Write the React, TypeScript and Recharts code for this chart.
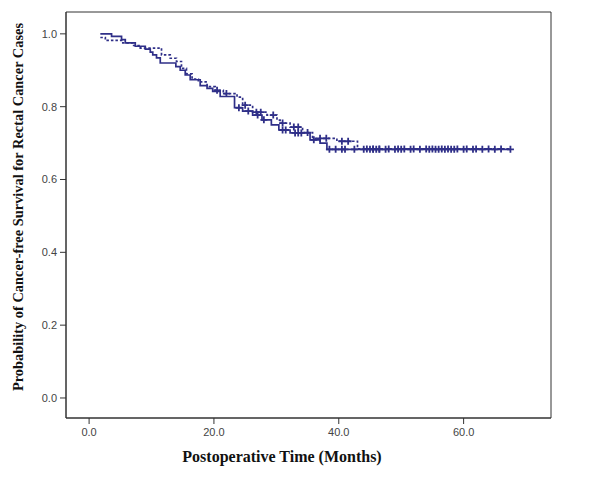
import React from 'react';
import {
  ComposedChart, Line, Scatter, XAxis, YAxis, ReferenceArea, Label
} from 'recharts';

// Kaplan-Meier steps (time in months, survival probability)
const solidTimes = [1.8, 3.6, 5.2, 5.8, 7.4, 9.0, 9.8, 10.2, 10.8, 11.4, 13.9, 14.6, 15.4, 16.2, 17.8, 18.9, 19.8, 21.0, 23.3, 24.6, 26.2, 27.7, 29.2, 30.4, 32.2, 35.4, 37.0, 38.1, 67.5];
const solidSurv = [1.0, 0.993, 0.984, 0.975, 0.966, 0.958, 0.95, 0.942, 0.934, 0.92, 0.91, 0.9, 0.887, 0.874, 0.858, 0.85, 0.842, 0.828, 0.797, 0.788, 0.777, 0.764, 0.75, 0.736, 0.728, 0.709, 0.7, 0.683, 0.683];

const dottedTimes = [1.8, 2.6, 5.4, 7.0, 8.2, 11.6, 13.0, 14.0, 14.8, 15.6, 16.5, 17.5, 18.9, 20.2, 21.5, 23.7, 24.6, 26.2, 28.5, 30.1, 30.6, 32.2, 34.2, 35.8, 39.7, 43.0, 67.5];
const dottedSurv = [0.99, 0.982, 0.975, 0.968, 0.961, 0.942, 0.933, 0.924, 0.905, 0.89, 0.876, 0.868, 0.855, 0.845, 0.836, 0.826, 0.804, 0.785, 0.777, 0.763, 0.755, 0.744, 0.729, 0.713, 0.705, 0.684, 0.684];

// censored cases (times)
const solidCensored = [24.0, 25.5, 27.0, 28.0, 31.0, 31.5, 33.0, 33.5, 34.0, 36.0, 38.5, 39.5, 40.5, 41.0, 42.5, 44.0, 45.0, 45.5, 46.0, 46.5, 47.5, 49.0, 50.0, 51.5, 53.0, 54.5, 55.5, 56.0, 57.0, 58.0, 58.5, 60.0, 61.5, 63.0, 65.0, 67.5];
const dottedCensored = [20.5, 22.0, 25.0, 26.8, 27.5, 29.5, 31.0, 32.8, 33.5, 35.0, 37.0, 38.0, 40.5, 41.5, 44.5, 45.5, 46.5, 48.0, 49.5, 50.5, 52.0, 54.0, 55.0, 56.5, 57.5, 59.0, 60.5, 62.0, 64.0, 66.0];

const xTicks = [0, 20, 40, 60];
const yTicks = [0, 0.2, 0.4, 0.6, 0.8, 1.0];

const navy = '#2f2f88';
const axisColor = '#333';

const toRows = (times: number[], surv: number[]) => times.map((t, i) => ({ t, s: surv[i] }));

// value of the step curve at time t (censor marks sit on the curve)
const stepAt = (times: number[], surv: number[], t: number) => {
  let v = surv[0];
  times.forEach((tt, i) => { if (tt <= t) v = surv[i]; });
  return v;
};

const solidData = toRows(solidTimes, solidSurv);
const dottedData = toRows(dottedTimes, dottedSurv);
const solidMarks = solidCensored.map(t => ({ t, s: stepAt(solidTimes, solidSurv, t) }));
const dottedMarks = dottedCensored.map(t => ({ t, s: stepAt(dottedTimes, dottedSurv, t) }));

const Plus = (props: any) => {
  const { cx, cy } = props;
  if (cx == null || cy == null) return null;
  return (
    <path
      d={`M${cx - 3.5},${cy}h7M${cx},${cy - 3.5}v7`}
      stroke={navy}
      strokeWidth={1.8}
      fill="none"
    />
  );
};

const tickStyle = { fontSize: 11, fill: '#444', fontFamily: 'Liberation Sans, Arial, sans-serif' };
const titleStyle = { fontWeight: 'bold', fill: '#111', fontFamily: 'Liberation Serif, Times New Roman, serif' };

export default function App() {
  return (
    <div style={{ position: 'absolute', left: 0, top: 0, width: 600, height: 481, background: '#fff' }}>
      <ComposedChart width={600} height={481} margin={{ top: 12, right: 49, left: 0, bottom: 0 }}>
        <XAxis
          type="number"
          dataKey="t"
          domain={[-3.7, 74]}
          ticks={xTicks}
          tickFormatter={(v: number) => v.toFixed(1)}
          height={63}
          tickSize={6}
          tickMargin={4}
          tick={tickStyle}
          stroke={axisColor}
          allowDataOverflow
        >
          <Label
            content={() => (
              <text x={282} y={462} textAnchor="middle" style={{ ...titleStyle, fontSize: 16 }}>
                Postoperative Time (Months)
              </text>
            )}
          />
        </XAxis>
        <YAxis
          type="number"
          dataKey="s"
          domain={[-0.055, 1.06]}
          ticks={yTicks}
          tickFormatter={(v: number) => v.toFixed(1)}
          width={66}
          tickSize={6}
          tickMargin={3}
          tick={tickStyle}
          stroke={axisColor}
          allowDataOverflow
        >
          <Label
            content={() => (
              <text
                x={23}
                y={207}
                textAnchor="middle"
                transform="rotate(-90 23 207)"
                style={{ ...titleStyle, fontSize: 14.4 }}
              >
                Probability of Cancer-free Survival for Rectal Cancer Cases
              </text>
            )}
          />
        </YAxis>
        <ReferenceArea x1={-3.7} x2={74} y1={-0.055} y2={1.06} fill="none" stroke={axisColor} strokeWidth={1} />
        <Line
          data={dottedData}
          dataKey="s"
          type="stepAfter"
          stroke={navy}
          strokeWidth={1.7}
          strokeDasharray="2.5 2"
          dot={false}
          isAnimationActive={false}
        />
        <Line
          data={solidData}
          dataKey="s"
          type="stepAfter"
          stroke={navy}
          strokeWidth={1.7}
          dot={false}
          isAnimationActive={false}
        />
        <Scatter data={dottedMarks} dataKey="s" shape={<Plus />} isAnimationActive={false} />
        <Scatter data={solidMarks} dataKey="s" shape={<Plus />} isAnimationActive={false} />
      </ComposedChart>
    </div>
  );
}
